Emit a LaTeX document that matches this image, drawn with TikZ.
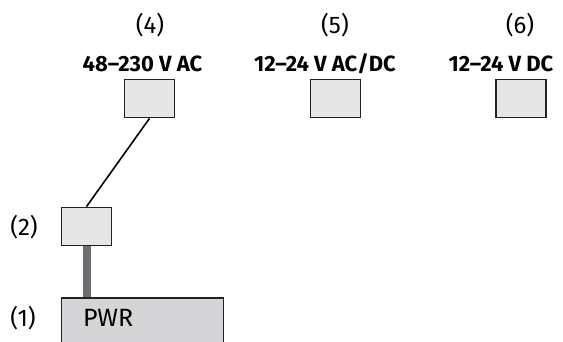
\documentclass[tikz,border=0pt]{standalone}
\usepackage{fontspec}
\setmainfont{Fira Sans}
\usepackage{xcolor}
\usepackage{tikz}
\usetikzlibrary{positioning}

\definecolor{boxfill}{HTML}{E6E6E6}
\definecolor{pwrfill}{HTML}{D5D5D7}
\definecolor{cablegray}{HTML}{6E6E72}
\definecolor{edgegray}{HTML}{222222}

\begin{document}
\begin{tikzpicture}[x=1pt, y=-1pt,
    socket/.style={rectangle, draw=edgegray, line width=1.8pt, fill=boxfill, minimum width=50pt, minimum height=38pt, inner sep=0pt},
    pwrbox/.style={rectangle, draw=edgegray, line width=1.8pt, fill=pwrfill, minimum width=162pt, minimum height=60pt, inner sep=0pt},
    numlabel/.style={font=\fontsize{24}{28}\selectfont, inner sep=0pt},
    voltlabel/.style={font=\fontsize{22}{26}\selectfont\bfseries, inner sep=0pt}
]
\clip (0,0) rectangle (563,342);

% Numbers
\node[numlabel] (n4) at (150, 25) {(4)};
\node[numlabel] (n5) at (335, 25) {(5)};
\node[numlabel] (n6) at (520, 25) {(6)};
\node[numlabel] (n2) at (24, 227) {(2)};
\node[numlabel] (n1) at (23, 318) {(1)};

% Voltages
\node[voltlabel] (v4) at (142.5, 64) {48–230 V AC};
\node[voltlabel] (v5) at (325, 64) {12–24 V AC/DC};
\node[voltlabel] (v6) at (501, 64) {12–24 V DC};

% Sockets
\node[socket] (s4) at (149.5, 98.5) {};
\node[socket] (s5) at (335.5, 98.5) {};
\node[socket] (s6) at (521, 98.5) {};
\node[socket] (s2) at (86.5, 226.5) {};

% Power module
\node[pwrbox] (pwr) at (142.5, 328) {};
\node[font=\fontsize{25}{29}\selectfont, anchor=west, inner sep=0pt] (pwrtext) at (83, 318) {PWR};

% Cables
\draw[line width=1.6pt] (s4.south) -- (s2.north);
\draw[cablegray, line width=8pt] (s2.south) -- (s2.south |- pwr.north);

\end{tikzpicture}
\end{document}
